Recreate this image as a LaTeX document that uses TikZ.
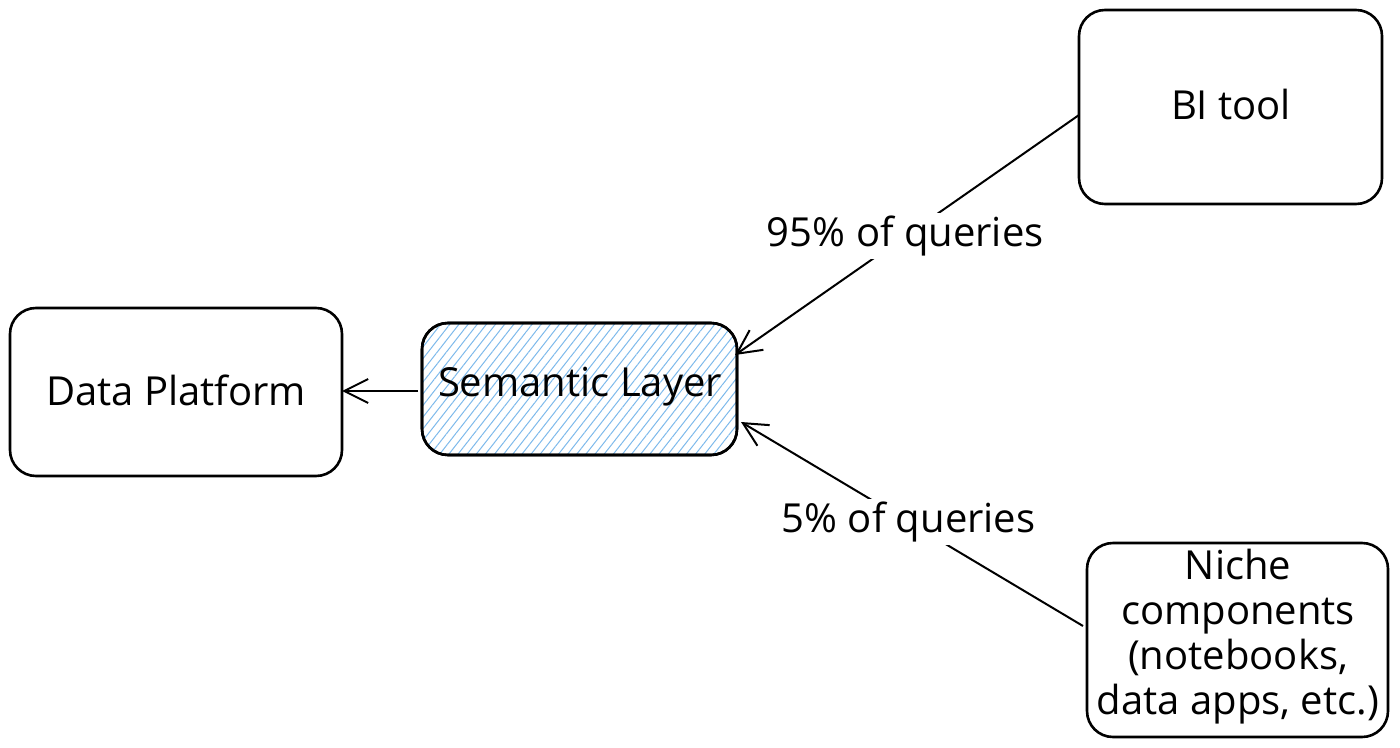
\documentclass[tikz,border=0pt]{standalone}
\usepackage{fontspec}
\setmainfont{Open Sans}
\usetikzlibrary{arrows.meta,patterns.meta}
\definecolor{hatch}{RGB}{125,185,235}
\tikzset{
  box/.style={draw=black, line width=1.3pt, rounded corners=13pt, inner sep=0pt},
  lbl/.style={font=\fontsize{20}{24}\selectfont, align=center},
  conn/.style={draw=black, line width=1pt, -{Straight Barb[length=12pt,width=12pt,line width=1pt]}},
  edgelbl/.style={font=\fontsize{20}{24}\selectfont, fill=white, inner sep=1.5pt},
}
\begin{document}
\begin{tikzpicture}[x=0.5pt,y=-0.5pt]
\useasboundingbox (0,0) rectangle (1400,748);
% boxes
\draw[box] (10,308) rectangle (342,476);
\node[lbl] (dp) at (176,390) {Data Platform};
\coordinate (dpE) at (342,391);

\draw[box, pattern={Lines[angle=52,distance=3.6pt,line width=0.5pt]}, pattern color=hatch] (422,323) rectangle (737,455);
\draw[box] (422,323) rectangle (737,455);
\node[lbl] (sl) at (580,387) {Semantic Layer};
\coordinate (slW) at (418,391);
\coordinate (slNE) at (735,355);
\coordinate (slSE) at (741,422);

\draw[box] (1079,10) rectangle (1382,204);
\node[lbl] (bi) at (1231,105) {BI tool};
\coordinate (biW) at (1079,115);

\draw[box] (1087,543) rectangle (1388,737);
\node[lbl, font=\fontsize{20}{22.5}\selectfont] (nc) at (1238,637) {Niche\\components\\(notebooks,\\data apps, etc.)};
\coordinate (ncW) at (1083,626);

% connectors
\draw[conn] (slW) -- (dpE);
\draw[conn] (biW) -- node[edgelbl, pos=0.505] (l95) {95\% of queries} (slNE);
\draw[conn] (ncW) -- node[edgelbl, pos=0.51] (l5) {5\% of queries} (slSE);
\end{tikzpicture}
\end{document}
